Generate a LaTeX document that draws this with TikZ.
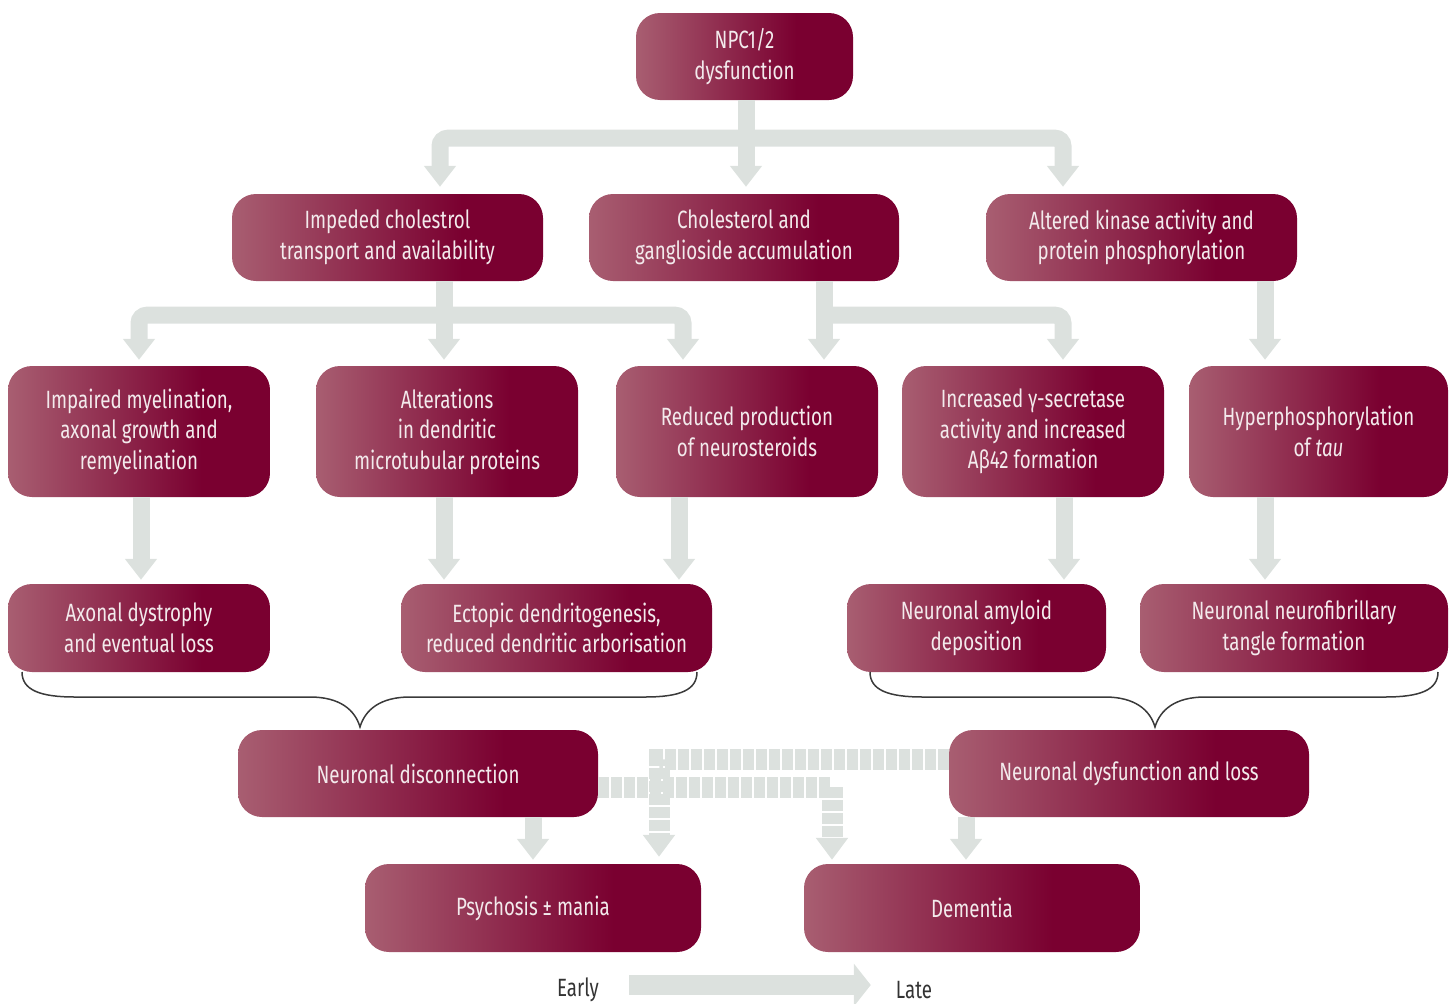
\documentclass[tikz,border=0pt]{standalone}
\usepackage{fontspec}
\usetikzlibrary{arrows.meta,calc}
\newfontfamily\bxfont{Fira Sans}[FakeStretch=0.75]
\definecolor{bxA}{HTML}{A85E71}
\definecolor{bxB}{HTML}{7A0030}
\definecolor{txt}{HTML}{F3EAEC}
\definecolor{barg}{HTML}{DCE1DE}
\definecolor{brc}{HTML}{3A3A3A}
\pgfdeclarehorizontalshading{boxsh}{100bp}{color(0bp)=(bxA); color(25bp)=(bxA); color(62bp)=(bxB); color(100bp)=(bxB)}
\tikzset{
  box/.style={shade, shading=boxsh, rounded corners=24, text=txt, align=center,
    inner sep=0pt, font=\bxfont\fontsize{25}{30.5}\selectfont},
  wh/.style 2 args={minimum width=#1, minimum height=#2},
  bar/.style={draw=barg, line width=17, rounded corners=8,
    -{Triangle[width=31pt,length=21pt]}},
  plainbar/.style={draw=barg, line width=17, rounded corners=8},
  dbar/.style={draw=barg, line width=21, dash pattern=on 11pt off 2pt,
    -{Triangle[width=31pt,length=22pt]}},
  dplain/.style={draw=barg, line width=21, dash pattern=on 11pt off 2pt},
  brace/.style={draw=brc, line width=1.5pt},
  lbl/.style={font=\bxfont\fontsize{25}{30}\selectfont, text=black!80, inner sep=0pt}
}
\begin{document}
\begin{tikzpicture}[x=1pt,y=-1pt]
\useasboundingbox (0,0) rectangle (1454,1004);
% ---------- connectors (drawn after nodes defined) ----------
\node[box,wh={217}{87}] (npc) at (744.5,56.5) {NPC1/2\\dysfunction};
\node[box,wh={311}{87}] (imp) at (387.5,237.5) {Impeded cholestrol\\transport and availability};
\node[box,wh={310}{87}] (cho) at (744,237.5) {Cholesterol and\\ganglioside accumulation};
\node[box,wh={311}{87}] (alt) at (1141.5,237.5) {Altered kinase activity and\\protein phosphorylation};
\node[box,wh={262}{131}] (mye) at (139,431.5) {Impaired myelination,\\axonal growth and\\remyelination};
\node[box,wh={262}{131}] (den) at (447,431.5) {Alterations\\in dendritic\\microtubular proteins};
\node[box,wh={262}{131}] (neu) at (747,431.5) {Reduced production\\of neurosteroids};
\node[box,wh={262}{131}] (gam) at (1033,431.5) {Increased γ-secretase\\activity and increased\\Aβ42 formation};
\node[box,wh={259}{131}] (hyp) at (1318.5,431.5) {Hyperphosphorylation\\of \textit{tau}};
\node[box,wh={262}{88}] (axo) at (139,628) {Axonal dystrophy\\and eventual loss};
\node[box,wh={311}{88}] (ect) at (556.5,628) {Ectopic dendritogenesis,\\reduced dendritic arborisation};
\node[box,wh={259}{88}] (amy) at (976.5,628) {Neuronal amyloid\\deposition};
\node[box,wh={308}{88}] (nft) at (1294,628) {Neuronal neurofibrillary\\tangle formation};
\node[box,wh={360}{87}] (dis) at (418,773.5) {Neuronal disconnection};
\node[box,wh={360}{87}] (dys) at (1129,773.5) {Neuronal dysfunction and loss};
\node[box,wh={336}{88}] (psy) at (533,908) {Psychosis ± mania};
\node[box,wh={336}{88}] (dem) at (972,908) {Dementia};
\node[lbl] (early) at (578,990) {Early};
\node[lbl] (late) at (914,990) {Late};
% row 1 -> row 2
\begin{scope}[on background layer/.style={}]
\path[plainbar] ([xshift=1.5]npc.south) -- ++(0,38);
\path[bar] ([xshift=1.5]npc.south) ++(0,38) -| ([xshift=52.5,yshift=7]imp.north);
\path[bar] ([xshift=1.5]npc.south) ++(0,38) -| ([xshift=-78.5,yshift=7]alt.north);
\path[bar] ([xshift=1.5]npc.south) -- ([xshift=2,yshift=7]cho.north);
% row 2 -> row 3
\path[plainbar] ([xshift=56.5]imp.south) -- ++(0,34);
\path[bar] ([xshift=56.5]imp.south) ++(0,34) -| ([yshift=6]mye.north);
\path[bar] ([xshift=56.5]imp.south) ++(0,34) -| ([xshift=-64,yshift=6]neu.north);
\path[bar] ([xshift=56.5]imp.south) -- ([xshift=-3,yshift=6]den.north);
\path[bar] ([xshift=80]cho.south) -- ([xshift=77,yshift=6]neu.north);
\path[bar] ([xshift=80]cho.south) ++(0,34) -| ([xshift=30,yshift=6]gam.north);
\path[bar] ([xshift=123.5]alt.south) -- ([xshift=-53.5,yshift=6]hyp.north);
% row 3 -> row 4
\path[bar] ([xshift=2]mye.south) -- ([xshift=2,yshift=4]axo.north);
\path[bar] ([xshift=-3]den.south) -- ([xshift=-112.5,yshift=4]ect.north);
\path[bar] ([xshift=-68]neu.south) -- ([xshift=122.5,yshift=4]ect.north);
\path[bar] ([xshift=31]gam.south) -- ([xshift=87.5,yshift=4]amy.north);
\path[bar] ([xshift=-53.5]hyp.south) -- ([xshift=-29,yshift=4]nft.north);
% row 5 -> row 6
\path[bar] ([xshift=115]dis.south) -- ([yshift=4]psy.north);
\path[bar] ([xshift=-163]dys.south) -- ([xshift=-6,yshift=4]dem.north);
% dashed cross connectors
\path[dbar] ([yshift=14.5]dys.west) -| ([xshift=126,yshift=7]psy.north);
\path[dbar] ([yshift=-13.5]dis.east) -| ([xshift=-140,yshift=4]dem.north);
% early -> late
\path[draw=barg, line width=20, -{Triangle[width=42pt,length=17pt]}]
  ([xshift=30,yshift=5]early.east) -- ([xshift=-25,yshift=5]late.west);
\end{scope}
% braces
\path[brace] (22,672) .. controls (22,690) and (40,697) .. (75,697) -- (310,697)
  .. controls (340,697) and (355,710) .. (360,727)
  .. controls (365,710) and (380,697) .. (410,697) -- (645,697)
  .. controls (680,697) and (697,690) .. (697,672);
\path[brace] (870,672) .. controls (870,690) and (888,697) .. (923,697) -- (1105,697)
  .. controls (1135,697) and (1150,710) .. (1155,727)
  .. controls (1160,710) and (1175,697) .. (1205,697) -- (1385,697)
  .. controls (1420,697) and (1438,690) .. (1438,672);
\end{tikzpicture}
\end{document}
